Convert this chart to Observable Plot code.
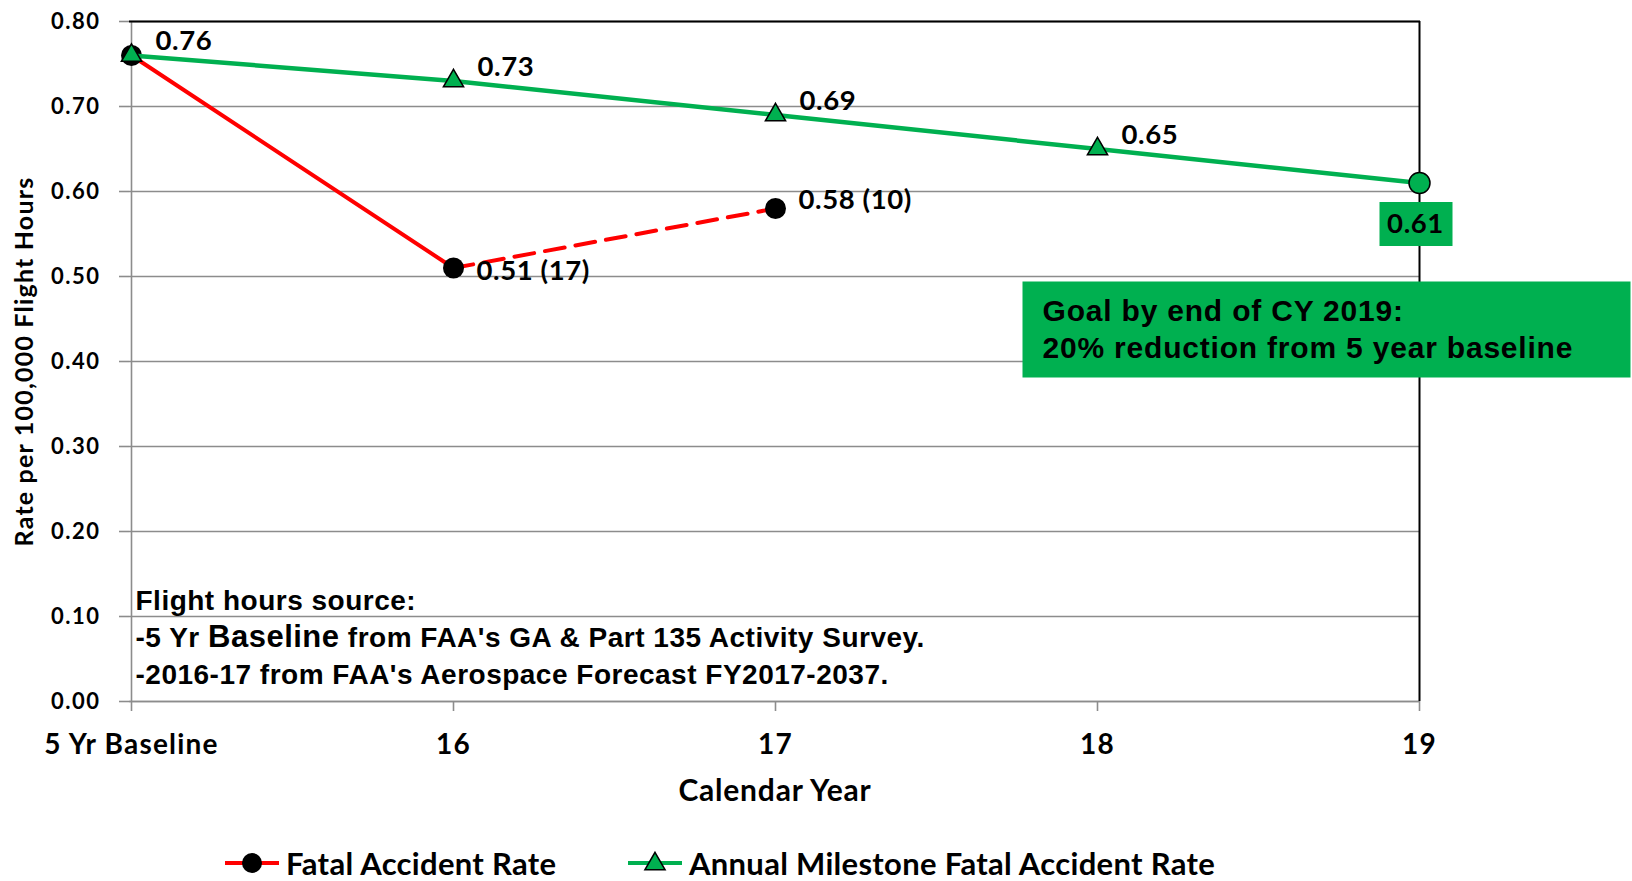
<!DOCTYPE html>
<html>
<head>
<meta charset="utf-8">
<script src="https://cdn.jsdelivr.net/npm/d3@7"></script>
<script src="https://cdn.jsdelivr.net/npm/@observablehq/plot@0.6"></script>
<style>
  html, body { margin: 0; padding: 0; background: #fff; }
  #wrap { position: relative; width: 1632px; height: 881px; overflow: hidden; }
  #legend { position: absolute; left: 0; top: 846px; width: 1632px; height: 34px;
            font-family: Lato, "Open Sans", sans-serif; font-weight: 700; font-size: 31px; color: #000; }
  .item { position: absolute; top: 0; height: 34px; display: flex; align-items: center; letter-spacing: 0.3px; white-space: nowrap; line-height: 1; }
  .item svg { margin-right: 7px; }
</style>
</head>
<body>
<div id="wrap">
  <div id="chart"></div>
  <div id="legend"></div>
</div>
<script>
// ---- data ----
const categories = ["5 Yr Baseline", "16", "17", "18", "19"];
const milestoneValues = [0.76, 0.73, 0.69, 0.65, 0.61];
const fatalCategories = ["5 Yr Baseline", "16", "17"];
const fatalValues = [0.76, 0.51, 0.58];
const fatalCounts = [null, 17, 10];
const yTicks = [0, 0.1, 0.2, 0.3, 0.4, 0.5, 0.6, 0.7, 0.8];
const seriesNames = ["Fatal Accident Rate", "Annual Milestone Fatal Accident Rate"];
const yTitle = "Rate per 100,000 Flight Hours";
const xTitle = "Calendar Year";
const sourceNote = "Flight hours source:\n-5 Yr Baseline from FAA's GA & Part 135 Activity Survey.\n-2016-17 from FAA's Aerospace Forecast FY2017-2037.";
const goalNote = "Goal by end of CY 2019:\n20% reduction from 5 year baseline";

// ---- derived tables ----
const milestone = categories.map((c, i) => ({cat: c, value: milestoneValues[i]}));
const fatal = fatalCategories.map((c, i) => ({cat: c, value: fatalValues[i], count: fatalCounts[i]}));
const fatalSolid = fatal.slice(0, 2);
const fatalDashed = fatal.slice(1, 3);
const milestoneTri = milestone.slice(0, 4);
const goalPoint = milestone.slice(4);
const fatalLabel = d => `${d.value.toFixed(2)} (${d.count})`;

const RED = "#FF0000", GREEN = "#00B050", GRID = "#8c8c8c";
const CAL = "Lato, 'Open Sans', sans-serif";
const ARIAL = "'Liberation Sans', Arial, sans-serif";

const boxSymbol = (ox, oy, w, h) => ({ draw(ctx) { ctx.rect(ox, oy, w, h); } });

const chart = Plot.plot({
  width: 1632,
  height: 840,
  marginLeft: 129,
  marginRight: 212,
  marginTop: 21,
  marginBottom: 139,
  style: {fontFamily: CAL, fontWeight: 700, color: "#000", background: "#fff", overflow: "visible"},
  x: {type: "point", domain: categories, padding: 0},
  y: {domain: [0, 0.8]},
  marks: [
    Plot.gridY(yTicks, {stroke: GRID, strokeOpacity: 1, strokeWidth: 1.6}),
    Plot.ruleY([0], {stroke: GRID, strokeWidth: 1.6}),
    Plot.ruleX([categories[0]], {stroke: GRID, strokeWidth: 1.6}),
    Plot.ruleY([0.8], {stroke: "#000", strokeWidth: 2}),
    Plot.ruleX([categories[categories.length - 1]], {stroke: "#000", strokeWidth: 2}),
    Plot.axisY(yTicks, {tickSize: 10, tickPadding: 19, tickFormat: d => d.toFixed(2), fontSize: 22, stroke: GRID, strokeWidth: 1.6, label: null}),
    Plot.axisX({tickSize: 10, tickPadding: 23, fontSize: 28, stroke: GRID, strokeWidth: 1.6, label: null}),
    // annotations
    Plot.text([sourceNote], {frameAnchor: "top-left", textAnchor: "start", lineAnchor: "top", dx: 6, dy: 562,
      fontFamily: ARIAL, fontSize: 28, lineHeight: 1.32, fill: "#000"}),
    Plot.dot([goalNote], {frameAnchor: "top-right", symbol: boxSymbol(-398, 260, 608, 96), fill: GREEN, stroke: "none"}),
    Plot.text([goalNote], {frameAnchor: "top-right", textAnchor: "start", lineAnchor: "top", dx: -378, dy: 273,
      fontFamily: ARIAL, fontSize: 30, lineHeight: 1.23, fill: "#000"}),
    // series: fatal accident rate
    Plot.line(fatalSolid, {x: "cat", y: "value", stroke: RED, strokeWidth: 4}),
    Plot.line(fatalDashed, {x: "cat", y: "value", stroke: RED, strokeWidth: 4, strokeDasharray: "20,11"}),
    Plot.dot(fatal, {x: "cat", y: "value", r: 10.5, fill: "#000", stroke: "none"}),
    // series: annual milestone
    Plot.line(milestone, {x: "cat", y: "value", stroke: GREEN, strokeWidth: 4.5}),
    Plot.dot(milestoneTri, {x: "cat", y: "value", symbol: "triangle", r: 7.5, fill: GREEN, stroke: "#000", strokeWidth: 1.5}),
    Plot.dot(goalPoint, {x: "cat", y: "value", r: 10.5, fill: GREEN, stroke: "#000", strokeWidth: 1.5}),
    // value labels
    Plot.text(milestoneTri, {x: "cat", y: "value", text: d => d.value.toFixed(2), textAnchor: "start", dx: 24, dy: -14, fontSize: 27.5, fill: "#000"}),
    Plot.dot(goalPoint, {x: "cat", y: "value", symbol: boxSymbol(-40, 19, 73, 44), fill: GREEN, stroke: "none"}),
    Plot.text(goalPoint, {x: "cat", y: "value", text: d => d.value.toFixed(2), dx: -4, dy: 41, fontSize: 27.5, fill: "#000"}),
    Plot.text(fatal.slice(1, 2), {x: "cat", y: "value", text: fatalLabel, textAnchor: "start", dx: 23, dy: 3, fontSize: 27.5, fill: "#000"}),
    Plot.text(fatal.slice(2, 3), {x: "cat", y: "value", text: fatalLabel, textAnchor: "start", dx: 23, dy: -8, fontSize: 27.5, fill: "#000"}),
    // axis titles
    Plot.text([yTitle], {frameAnchor: "left", textAnchor: "middle", rotate: -90, dx: -105, fontSize: 25, fill: "#000"}),
    Plot.text([xTitle], {frameAnchor: "bottom", textAnchor: "middle", dy: 99, fontSize: 30, fill: "#000"})
  ]
});
document.getElementById("chart").appendChild(chart);

// fine typography tweaks
const svg = d3.select(chart);
svg.selectAll('g[font-size="22"]').attr("letter-spacing", "1.5px");
svg.selectAll('g[font-size="28"][font-family]').attr("letter-spacing", "0.5px");
svg.selectAll('g[font-size="28"]:not([font-family])').attr("letter-spacing", "1.2px");
svg.selectAll('g[font-size="27.5"]').attr("letter-spacing", "0.6px");
svg.selectAll('g[font-size="30"][font-family]').attr("letter-spacing", "0.8px");
svg.selectAll('g[font-size="30"]:not([font-family])').attr("letter-spacing", "0.8px");
svg.selectAll('g[font-size="25"]').attr("letter-spacing", "1.2px");
// slightly larger "Baseline" word in the source note, as in the original
svg.selectAll("tspan").filter(function() { return this.textContent.startsWith("-5 Yr Baseline"); })
  .each(function() {
    const t = d3.select(this);
    const full = this.textContent;
    const word = "Baseline";
    const i = full.indexOf(word);
    t.text(null);
    t.append("tspan").text(full.slice(0, i));
    t.append("tspan").attr("font-size", 31).text(word);
    t.append("tspan").text(full.slice(i + word.length));
  });

// legend
const legend = d3.select("#legend");
const items = [
  {name: seriesNames[0], left: 225, color: RED, marker: "circle"},
  {name: seriesNames[1], left: 628, color: GREEN, marker: "triangle"}
];
items.forEach(it => {
  const div = legend.append("div").attr("class", "item").style("left", it.left + "px");
  const s = div.append("svg").attr("width", 54).attr("height", 30);
  s.append("line").attr("x1", 0).attr("x2", 54).attr("y1", 15).attr("y2", 15).attr("stroke", it.color).attr("stroke-width", 4);
  if (it.marker === "circle") {
    s.append("circle").attr("cx", 27).attr("cy", 15).attr("r", 10).attr("fill", "#000");
  } else {
    s.append("path").attr("transform", "translate(27,16)")
      .attr("d", d3.symbol(d3.symbolTriangle, Math.PI * 7.5 * 7.5)())
      .attr("fill", GREEN).attr("stroke", "#000").attr("stroke-width", 1.5);
  }
  div.append("span").text(it.name);
});
</script>
</body>
</html>
